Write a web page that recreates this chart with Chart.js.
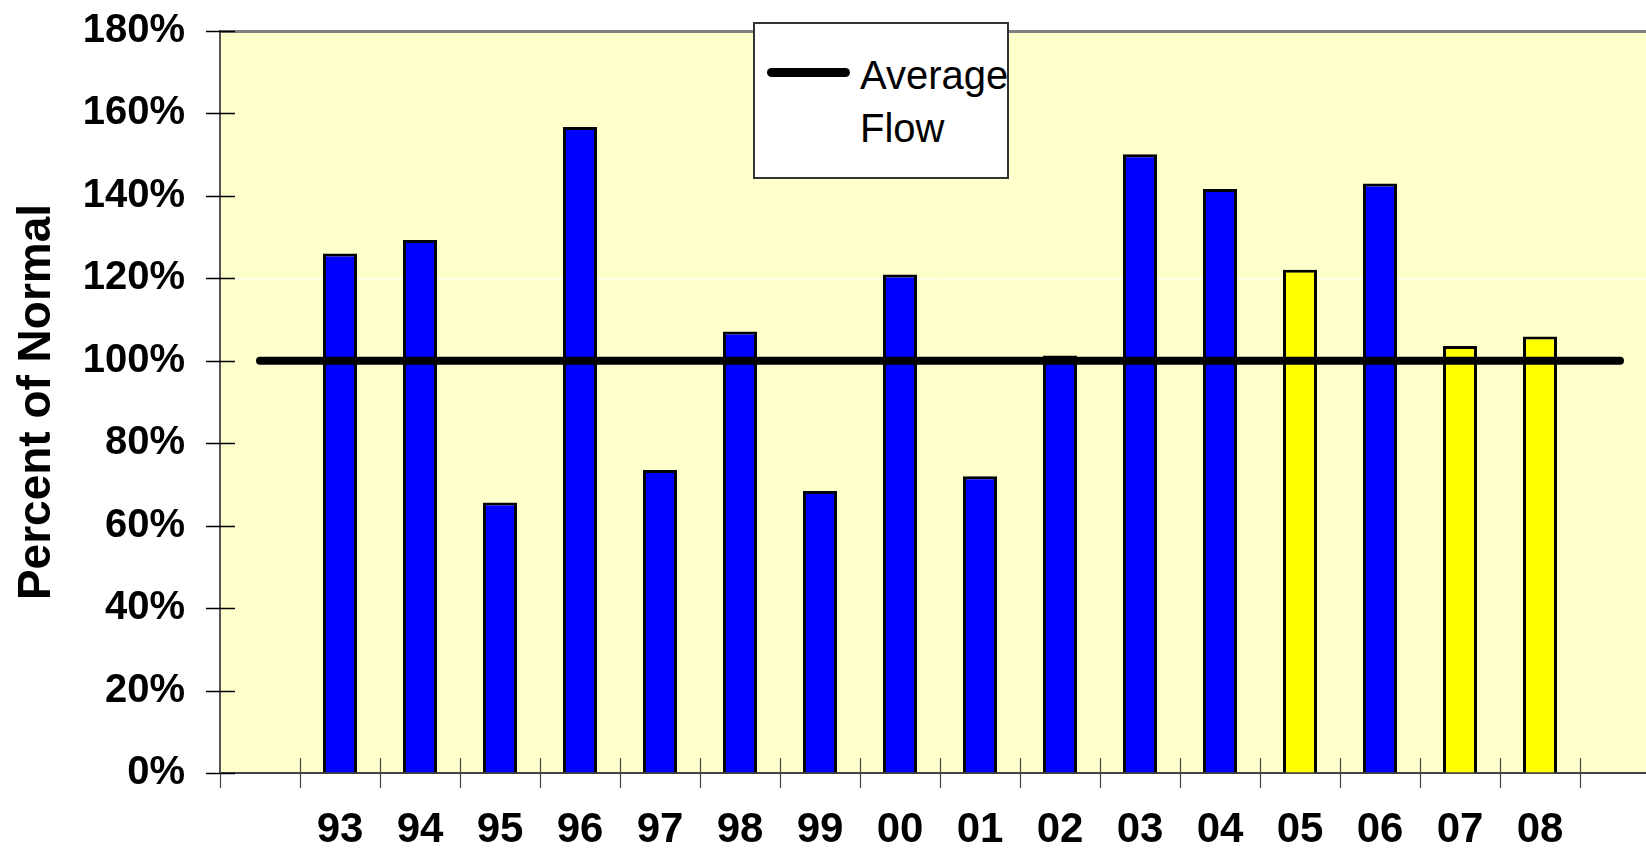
<!DOCTYPE html>
<html>
<head>
<meta charset="utf-8">
<script src="https://cdn.jsdelivr.net/npm/chart.js@4.4.1/dist/chart.umd.min.js"></script>
<style>
html, body { margin:0; padding:0; background:#fff; overflow:hidden; width:1646px; height:852px; }
#wrap { position:relative; width:1646px; height:852px; overflow:hidden; }
#c { position:absolute; left:0; top:0; }
#legend { position:absolute; left:753px; top:22px; width:252px; height:153px; background:#fff; border:2px solid #333; font-family:"Liberation Sans", Arial, sans-serif; }
#lgline { position:absolute; left:12px; top:44px; width:83px; height:9px; background:#000; border-radius:4.5px; }
#lgtext { position:absolute; left:105px; top:25px; font-size:40px; line-height:53px; color:#000; white-space:nowrap; }
</style>
</head>
<body>
<div id="wrap">
  <canvas id="c" width="1670" height="852"></canvas>
  <div id="legend"><div id="lgline"></div><div id="lgtext"></div></div>
</div>
<script>
// ---- data ----
const categories = ["", "93", "94", "95", "96", "97", "98", "99", "00", "01", "02", "03", "04", "05", "06", "07", "08", ""];
const percentOfNormal = [null, 126, 129.3, 65.6, 156.7, 73.5, 107.1, 68.4, 120.9, 72, 101.3, 150.1, 141.7, 122.1, 143, 103.6, 105.9, null];
const averageFlow = [100, 100, 100, 100, 100, 100, 100, 100, 100, 100, 100, 100, 100, 100, 100, 100, 100, 100];
const highlightedYears = ["05", "07", "08"];
const yTickValues = [0, 20, 40, 60, 80, 100, 120, 140, 160, 180];
const averageLabel = "Average Flow";
const yAxisTitle = "Percent of Normal";

// ---- legend (HTML text) ----
document.getElementById('lgtext').innerHTML = averageLabel.split(' ').join('<br>');

const FONT = '"Liberation Sans", Arial, sans-serif';

const bgPlugin = {
  id: 'bg',
  beforeDraw(chart) {
    const a = chart.chartArea, ctx = chart.ctx;
    ctx.save();
    ctx.fillStyle = '#FFFFCC';
    ctx.fillRect(a.left, a.top, a.right - a.left, a.bottom - a.top);
    ctx.restore();
  }
};

const tickPlugin = {
  id: 'crossTicks',
  afterDraw(chart) {
    const ctx = chart.ctx, x = chart.scales.x, y = chart.scales.y;
    ctx.save();
    ctx.strokeStyle = '#000';
    ctx.lineWidth = 1.5;
    y.ticks.forEach(t => {
      const py = Math.round(y.getPixelForValue(t.value)) + 0.5;
      ctx.beginPath();
      ctx.moveTo(x.left - 14, py);
      ctx.lineTo(x.left + 15, py);
      ctx.stroke();
    });
    ctx.strokeStyle = '#444';
    ctx.lineWidth = 1.2;
    const slot = (x.right - x.left) / categories.length;
    for (let k = 0; k < categories.length; k++) {
      const px = Math.round(x.left + k * slot) + 0.5;
      ctx.beginPath();
      ctx.moveTo(px, k === 0 ? x.top : x.top - 15);
      ctx.lineTo(px, x.top + 15);
      ctx.stroke();
    }
    ctx.restore();
  }
};

new Chart(document.getElementById('c'), {
  data: {
    labels: categories,
    datasets: [
      {
        type: 'line',
        label: averageLabel,
        data: averageFlow,
        borderColor: '#000',
        borderWidth: 8,
        borderCapStyle: 'round',
        pointRadius: 0,
        fill: false,
        order: 0
      },
      {
        type: 'bar',
        label: yAxisTitle,
        data: percentOfNormal,
        backgroundColor: categories.map(c => highlightedYears.includes(c) ? '#FFFF00' : '#0000FF'),
        borderColor: '#000',
        borderWidth: 3,
        borderSkipped: 'start',
        barPercentage: 0.85,
        categoryPercentage: 0.5,
        order: 1
      }
    ]
  },
  options: {
    responsive: false,
    animation: false,
    layout: { padding: { top: 31, right: 10, left: 0, bottom: 0 } },
    plugins: { legend: { display: false }, tooltip: { enabled: false } },
    scales: {
      x: {
        type: 'category',
        offset: true,
        afterFit(scale) { scale.height = 79; },
        grid: { display: true, drawOnChartArea: false, drawTicks: false, color: 'rgba(0,0,0,0)' },
        border: { display: true, color: '#444', width: 2 },
        ticks: {
          autoSkip: false, maxRotation: 0, minRotation: 0, padding: 32,
          color: '#000',
          font: { family: FONT, size: 42, weight: 'bold' }
        }
      },
      y: {
        min: 0, max: 180,
        afterFit(scale) { scale.width = 220; scale.paddingTop = 0; scale.paddingBottom = 0; },
        afterBuildTicks(scale) { scale.ticks = yTickValues.map(v => ({ value: v })); },
        grid: {
          drawTicks: false,
          color: ctx => ctx.tick && ctx.tick.value === 120 ? '#FFFFFF' : (ctx.tick && ctx.tick.value === 180 ? '#808080' : 'rgba(0,0,0,0)'),
          lineWidth: ctx => ctx.tick && ctx.tick.value === 180 ? 3 : 1
        },
        border: { display: true, color: '#555', width: 2 },
        ticks: {
          padding: 35,
          color: '#000',
          font: { family: FONT, size: 40, weight: 'bold' },
          callback: v => v + '%'
        },
        title: {
          display: true,
          text: yAxisTitle,
          color: '#000',
          padding: { top: 10, bottom: 0 },
          font: { family: FONT, size: 46, weight: 'bold' }
        }
      }
    }
  },
  plugins: [bgPlugin, tickPlugin]
});
</script>
</body>
</html>
